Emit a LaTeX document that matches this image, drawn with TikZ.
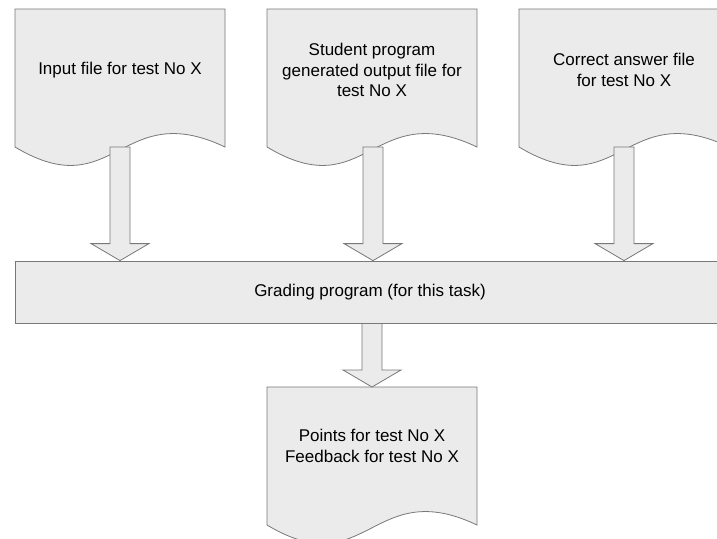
\documentclass[tikz,border=0pt]{standalone}
\usepackage{fontspec}
\setmainfont{Liberation Sans}
\usetikzlibrary{calc}
\definecolor{shapefill}{RGB}{235,235,235}
\definecolor{shapeline}{RGB}{120,120,120}
\tikzset{
  shapestyle/.style={draw=shapeline, fill=shapefill, line width=0.8pt, line join=miter},
  label/.style={align=center, font=\fontsize{17}{20.5}\selectfont, inner sep=0pt},
}
\newcommand{\docshape}[2]{%
  \path[shapestyle] (#1,-#2) -- ++(210,0) -- ++(0,-138)
    .. controls ++(-105,50) and ++(100,-60) .. ++(-210,0) -- cycle;}
\newcommand{\blockarrow}[2]{%
  \path[shapestyle] ($(#1)+(-10,0)$) -- ($(#2)+(-10,17)$) -- ($(#2)+(-29,17)$)
    -- (#2) -- ($(#2)+(29,17)$) -- ($(#2)+(10,17)$) -- ($(#1)+(10,0)$) -- cycle;}
\begin{document}
\begin{tikzpicture}[x=1pt,y=1pt]
\useasboundingbox (0,0) rectangle (717,-538);
% documents
\docshape{15}{9}
\docshape{267}{9}
\docshape{519}{9}
\docshape{267}{387}
% grading box
\node[shapestyle, minimum width=710pt, minimum height=62pt, inner sep=0pt] (g) at (370,-292) {};
\node[label] (gt) at (g.center) {Grading program (for this task)};
% text nodes
\node[label] (d1) at (120,-70) {Input file for test No X};
\node[label] (d2) at (372,-70) {Student program\\generated output file for\\test No X};
\node[label] (d3) at (624,-70) {Correct answer file\\for test No X};
\node[label] (d4) at (372,-446) {Points for test No X\\Feedback for test No X};
% arrow anchors
\coordinate (a1) at (120,-147);
\coordinate (a2) at (373,-147);
\coordinate (a3) at (624,-147);
\coordinate (a4) at (372,-387);
\coordinate (t1) at (a1 |- g.north);
\coordinate (t2) at (a2 |- g.north);
\coordinate (t3) at (a3 |- g.north);
\coordinate (s4) at (a4 |- g.south);
\blockarrow{a1}{t1}
\blockarrow{a2}{t2}
\blockarrow{a3}{t3}
\blockarrow{s4}{a4}
\end{tikzpicture}
\end{document}
